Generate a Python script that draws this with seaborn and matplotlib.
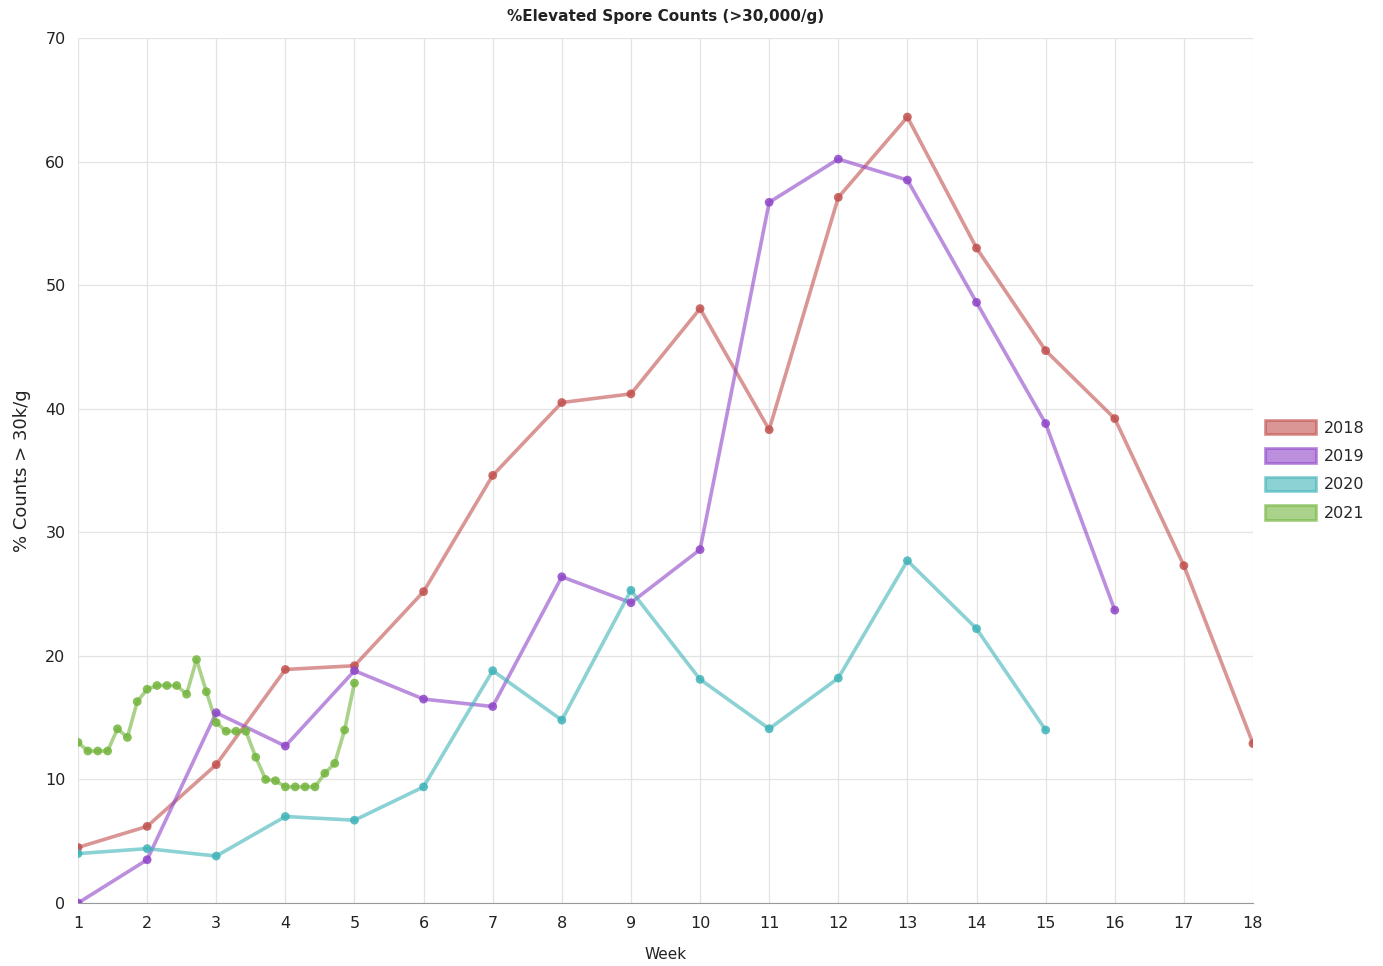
import numpy as np
import pandas as pd
import matplotlib
matplotlib.use("Agg")
import matplotlib.pyplot as plt
from matplotlib.patches import Patch
import seaborn as sns

# Données
weeks_2018 = [1, 2, 3, 4, 5, 6, 7, 8, 9, 10, 11, 12, 13, 14, 15, 16, 17, 18]
pct_2018 = [4.5, 6.2, 11.2, 18.9, 19.2, 25.2, 34.6, 40.5, 41.2, 48.1, 38.3, 57.1,
            63.6, 53.0, 44.7, 39.2, 27.3, 12.9]

weeks_2019 = [1, 2, 3, 4, 5, 6, 7, 8, 9, 10, 11, 12, 13, 14, 15, 16]
pct_2019 = [0.0, 3.5, 15.4, 12.7, 18.8, 16.5, 15.9, 26.4, 24.3, 28.6, 56.7, 60.2,
            58.5, 48.6, 38.8, 23.7]

weeks_2020 = [1, 2, 3, 4, 5, 6, 7, 8, 9, 10, 11, 12, 13, 14, 15]
pct_2020 = [4.0, 4.4, 3.8, 7.0, 6.7, 9.4, 18.8, 14.8, 25.3, 18.1, 14.1, 18.2,
            27.7, 22.2, 14.0]

# 2021 : valeurs journalières (jour 0 = semaine 1)
days_2021 = [0, 1, 2, 3, 4, 5, 6, 7, 8, 9, 10, 11, 12, 13, 14, 15, 16, 17, 18, 19,
             20, 21, 22, 23, 24, 25, 26, 27, 28]
pct_2021 = [13.0, 12.3, 12.3, 12.3, 14.1, 13.4, 16.3, 17.3, 17.6, 17.6, 17.6, 16.9,
            19.7, 17.1, 14.6, 13.9, 13.9, 13.9, 11.8, 10.0, 9.9, 9.4, 9.4, 9.4,
            9.4, 10.5, 11.3, 14.0, 17.8]
weeks_2021 = [1 + d / 7 for d in days_2021]

years = ["2018", "2019", "2020", "2021"]
line_colors = {"2018": "#c0504d", "2019": "#8e44c8", "2020": "#3fb3b8", "2021": "#72b43c"}

frames = []
for yr, wk, val in [("2018", weeks_2018, pct_2018), ("2019", weeks_2019, pct_2019),
                    ("2020", weeks_2020, pct_2020), ("2021", weeks_2021, pct_2021)]:
    frames.append(pd.DataFrame({"Week": wk, "pct": val, "year": yr}))
data = pd.concat(frames, ignore_index=True)

sns.set_style("white")
plt.rcParams['font.family'] = ['DejaVu Sans']

fig = plt.figure(figsize=(13.83, 9.66), dpi=100)
ax = fig.add_axes([0.0564, 0.0652, 0.8496, 0.8955])

sns.lineplot(data=data, x="Week", y="pct", hue="year", palette=line_colors,
             estimator=None, sort=False, lw=2.6, alpha=0.6, legend=False, ax=ax)
sns.scatterplot(data=data, x="Week", y="pct", hue="year", palette=line_colors,
                s=40, alpha=0.85, edgecolor="none", legend=False, ax=ax, zorder=3)

ax.set_xlim(1, 18)
ax.set_ylim(0, 70)
ax.set_xticks(range(1, 19))
ax.set_yticks(range(0, 71, 10))
ax.grid(True, color="#e3e3e3", lw=0.9)
ax.set_axisbelow(True)
for side in ["top", "right", "left"]:
    ax.spines[side].set_visible(False)
ax.spines["bottom"].set_color("#999999")
ax.tick_params(axis="both", length=0, labelsize=11.5, colors="#222222", pad=9)

ax.set_xlabel("Week", fontsize=11, color="#222222", labelpad=12)
ax.set_ylabel("% Counts > 30k/g", fontsize=13, color="#222222", labelpad=10)
ax.set_title("%Elevated Spore Counts (>30,000/g)", fontsize=11, fontweight="bold",
             pad=12, color="#222222")

handles = [Patch(facecolor=line_colors[yr], edgecolor=line_colors[yr], alpha=0.6,
                 lw=2, label=yr) for yr in years]
ax.legend(handles=handles, loc="center left", bbox_to_anchor=(1.01, 0.5),
          frameon=False, fontsize=11.5, handlelength=3.2, handleheight=1.0,
          labelspacing=0.8, handletextpad=0.5, borderpad=0, borderaxespad=0)

plt.savefig("out.png", dpi=100)
